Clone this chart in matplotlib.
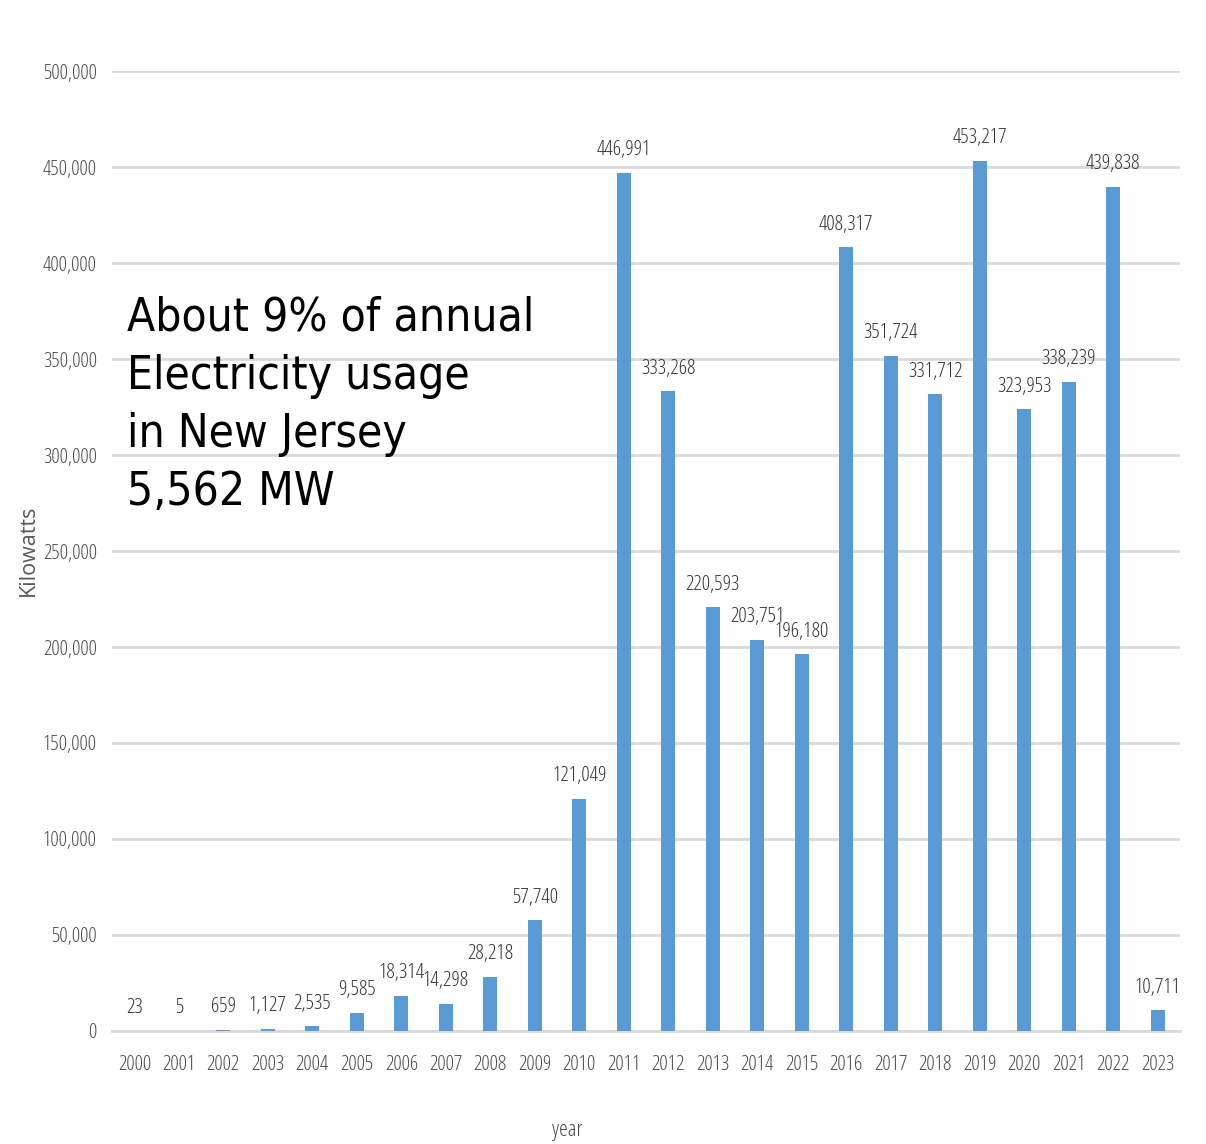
import matplotlib
matplotlib.use("Agg")
import matplotlib.pyplot as plt
from matplotlib.font_manager import FontProperties
from matplotlib.ticker import FuncFormatter, MultipleLocator

years = [str(y) for y in range(2000, 2024)]
kilowatts = [23, 5, 659, 1127, 2535, 9585, 18314, 14298, 28218, 57740,
             121049, 446991, 333268, 220593, 203751, 196180, 408317,
             351724, 331712, 453217, 323953, 338239, 439838, 10711]
note_lines = ["About 9% of annual", "Electricity usage", "in New Jersey", "5,562 MW"]

# light condensed face for numbers, tick labels and the x axis title
narrow = dict(family="Open Sans", stretch="condensed", weight=300)

fig = plt.figure(figsize=(12.06, 11.44), dpi=100)
ax = fig.add_axes([0.0929, 0.0988, 0.8855, 0.8391])

x = range(len(years))
ax.bar(x, kilowatts, width=0.31, color="#5B9BD5", zorder=3)

for xi, v in zip(x, kilowatts):
    ax.annotate(f"{v:,}", (xi, v), xytext=(0, 9), textcoords="offset points",
                ha="center", va="bottom",
                fontproperties=FontProperties(size=15, **narrow),
                color="#333333", zorder=4)

ax.set_xlim(-0.5, len(years) - 0.5)
ax.set_ylim(0, 500000)
ax.yaxis.set_major_locator(MultipleLocator(50000))
ax.yaxis.set_major_formatter(FuncFormatter(lambda v, p: f"{int(v):,}"))
ax.set_xticks(list(x))
ax.set_xticklabels(years)

ax.grid(axis="y", color="#D9D9D9", linewidth=2, zorder=0)
for s in ["top", "right", "left"]:
    ax.spines[s].set_visible(False)
ax.spines["bottom"].set_color("#D9D9D9")
ax.spines["bottom"].set_linewidth(2)
ax.spines["bottom"].set_zorder(2)
ax.tick_params(axis="both", length=0, labelcolor="#4A4A4A")
ax.tick_params(axis="x", pad=17)
ax.tick_params(axis="y", pad=11)
for lbl in ax.get_xticklabels() + ax.get_yticklabels():
    lbl.set_fontproperties(FontProperties(size=15, **narrow))

fig.text(0.470, 0.0122, "year", ha="center", va="center",
         fontproperties=FontProperties(size=16, **narrow), color="#4A4A4A")
fig.text(0.0235, 0.519, "Kilowatts", rotation=90, ha="center", va="center",
         fontsize=15.5, family="Open Sans", color="#595959")

ax.text(0.014, 0.766, "\n".join(note_lines), transform=ax.transAxes,
        ha="left", va="top",
        fontproperties=FontProperties(family="DejaVu Sans", stretch="condensed", size=33),
        color="black", linespacing=1.37, zorder=5)

fig.savefig("out.png", dpi=100, facecolor="white")
